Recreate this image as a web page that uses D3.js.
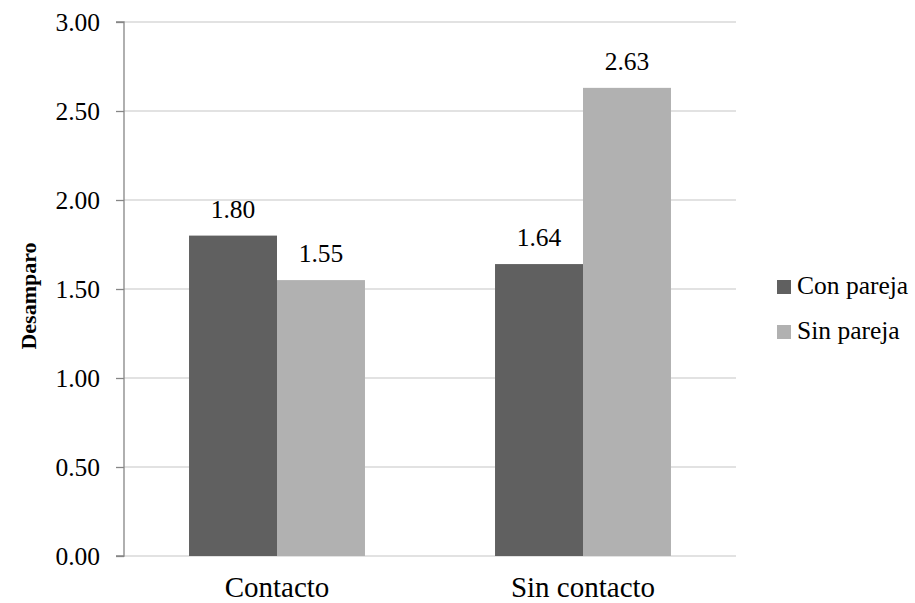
<!DOCTYPE html>
<html>
<head>
<meta charset="utf-8">
<script src="https://cdn.jsdelivr.net/npm/d3@7"></script>
</head>
<body style="margin:0;background:#fff">
<svg id="chart" width="915" height="603"></svg>
<script>
// Grupos en el eje X y series del gráfico
const categories = ["Contacto", "Sin contacto"];
const seriesNames = ["Con pareja", "Sin pareja"];
const conPareja = [1.80, 1.64];
const sinPareja = [1.55, 2.63];
const yTicks = [0, 0.5, 1, 1.5, 2, 2.5, 3];
const yLabel = "Desamparo";

const colors = { "Con pareja": "#606060", "Sin pareja": "#b1b1b1" };
const seriesValues = { "Con pareja": conPareja, "Sin pareja": sinPareja };
const FONT = "'Liberation Serif', 'Times New Roman', serif";

const svg = d3.select("#chart");
const margin = { left: 124, right: 179, top: 22, bottom: 47 };
const W = 915, H = 603;
const plotW = W - margin.left - margin.right;
const plotH = H - margin.top - margin.bottom;

const g = svg.append("g").attr("transform", `translate(${margin.left},${margin.top})`);

const x0 = d3.scaleBand().domain(categories).range([0, plotW])
  .paddingInner(0.425).paddingOuter(0.2125);
const x1 = d3.scaleBand().domain(seriesNames).range([0, x0.bandwidth()]);
const y = d3.scaleLinear().domain([0, 3]).range([plotH, 0]);

function serif(sel, size, weight) {
  return sel.style("font-family", FONT).style("font-size", size + "px")
    .style("font-weight", weight || "normal").style("fill", "#000");
}

// Líneas de cuadrícula horizontales
g.append("g").selectAll("line").data(yTicks).join("line")
  .attr("x1", 0).attr("x2", plotW)
  .attr("y1", d => y(d)).attr("y2", d => y(d))
  .attr("stroke", "#d9d9d9").attr("stroke-width", 1.3);

// Barras agrupadas
const groups = g.append("g").selectAll("g").data(categories).join("g")
  .attr("transform", d => `translate(${x0(d)},0)`);

groups.selectAll("rect")
  .data((c, i) => seriesNames.map(s => ({ s, v: seriesValues[s][i] })))
  .join("rect")
  .attr("x", d => x1(d.s))
  .attr("y", d => y(d.v))
  .attr("width", x1.bandwidth())
  .attr("height", d => plotH - y(d.v))
  .attr("fill", d => colors[d.s]);

// Etiquetas de valor sobre cada barra
groups.selectAll("text.val")
  .data((c, i) => seriesNames.map(s => ({ s, v: seriesValues[s][i] })))
  .join("text")
  .attr("class", "val")
  .attr("x", d => x1(d.s) + x1.bandwidth() / 2)
  .attr("y", d => y(d.v) - 18)
  .attr("text-anchor", "middle")
  .call(serif, 25.5)
  .text(d => d3.format(".2f")(d.v));

// Eje Y
const yAxis = g.append("g")
  .call(d3.axisLeft(y).tickValues(yTicks).tickFormat(d3.format(".2f")).tickSize(8).tickPadding(16));
yAxis.select(".domain").attr("stroke", "#868686").attr("stroke-width", 1.3).attr("d", `M-8,${plotH}H0V0H-8`);
yAxis.selectAll(".tick line").attr("stroke", "#868686").attr("stroke-width", 1.3);
yAxis.selectAll(".tick text").attr("dy", "0.34em").call(serif, 25.5);

// Etiquetas de categoría
g.append("g").selectAll("text").data(categories).join("text")
  .attr("x", d => x0(d) + x0.bandwidth() / 2)
  .attr("y", plotH + 41)
  .attr("text-anchor", "middle")
  .call(serif, 29)
  .text(d => d);

// Título del eje Y
svg.append("text")
  .attr("transform", "translate(36,296) rotate(-90)")
  .attr("text-anchor", "middle")
  .call(serif, 22, "bold")
  .text(yLabel);

// Leyenda
const legend = svg.append("g").attr("transform", "translate(777,280)");
const items = legend.selectAll("g").data(seriesNames).join("g")
  .attr("transform", (d, i) => `translate(0,${i * 45})`);
items.append("rect").attr("width", 14).attr("height", 14).attr("fill", d => colors[d]);
items.append("text").attr("x", 20).attr("y", 14).call(serif, 25.5).text(d => d);
</script>
</body>
</html>
